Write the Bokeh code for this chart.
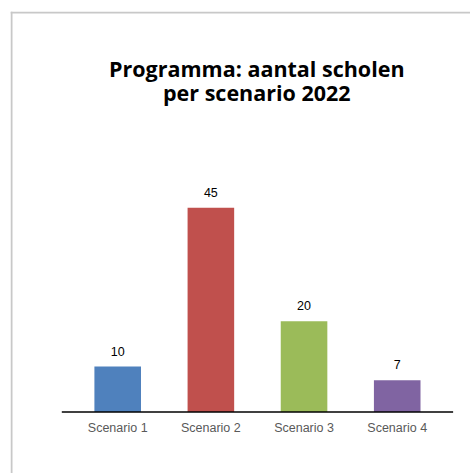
from bokeh.plotting import figure
from bokeh.models import Range1d, FactorRange, ColumnDataSource, Span, Label
from bokeh.transform import dodge
from bokeh.core.properties import value
from bokeh.embed import file_html
from bokeh.resources import INLINE

title_lines = ["Programma: aantal scholen", "per scenario 2022"]
categories = ["Scenario 1", "Scenario 2", "Scenario 3", "Scenario 4"]
values = [10, 45, 20, 7]
colors = ["#4F81BD", "#C0504D", "#9BBB59", "#8064A2"]

SHIFT = 0.182
FRAME_H = 462

p = figure(width=470, height=473, output_backend="svg", toolbar_location=None,
           title=None,
           x_range=FactorRange(factors=categories, range_padding=0.4686,
                               range_padding_units="absolute"),
           y_range=Range1d(-13.55, 88.25),
           x_axis_location=None, y_axis_location=None,
           min_border_left=10, min_border_top=11, min_border_right=0, min_border_bottom=0)
p.grid.visible = False
p.outline_line_color = None
p.background_fill_color = "white"
p.border_fill_color = "white"

src = ColumnDataSource(dict(cat=categories, val=values, color=colors,
                            label=[str(v) for v in values]))
xpos = dodge("cat", SHIFT, range=p.x_range)

p.vbar(x=xpos, top="val", bottom=0, width=0.5, fill_color="color",
       line_color=None, source=src)

p.text(x=xpos, y="val", text="label", source=src, text_align="center",
       text_baseline="middle", y_offset=-15.5, text_font=value("Liberation Sans"),
       text_font_size="12.5px", text_color="#000000")

p.text(x=xpos, y=0, text="cat", source=src, text_align="center",
       text_baseline="middle", y_offset=16, text_font=value("Liberation Sans"),
       text_font_size="12.5px", text_color="#595959")

base = ColumnDataSource(dict(x0=[categories[0]], x1=[categories[-1]]))
p.segment(x0=dodge("x0", SHIFT - 0.6, range=p.x_range), y0=0,
          x1=dodge("x1", SHIFT + 0.6, range=p.x_range), y1=0,
          line_color="black", line_width=1.5, source=base)

p.add_layout(Span(location=1, location_units="screen", dimension="height",
                  line_color="#C8C8C8", line_width=2))
p.add_layout(Span(location=FRAME_H - 1, location_units="screen", dimension="width",
                  line_color="#C8C8C8", line_width=2))

for i, t in enumerate(title_lines):
    p.add_layout(Label(x=246.3, y=405.5 - 24.5 * i, x_units="screen", y_units="screen",
                       text=t, text_align="center", text_baseline="middle",
                       text_font="Open Sans", text_font_style="bold",
                       text_font_size="21.5px", text_color="#000000"))

open("out.html", "w").write(file_html(p, INLINE))
